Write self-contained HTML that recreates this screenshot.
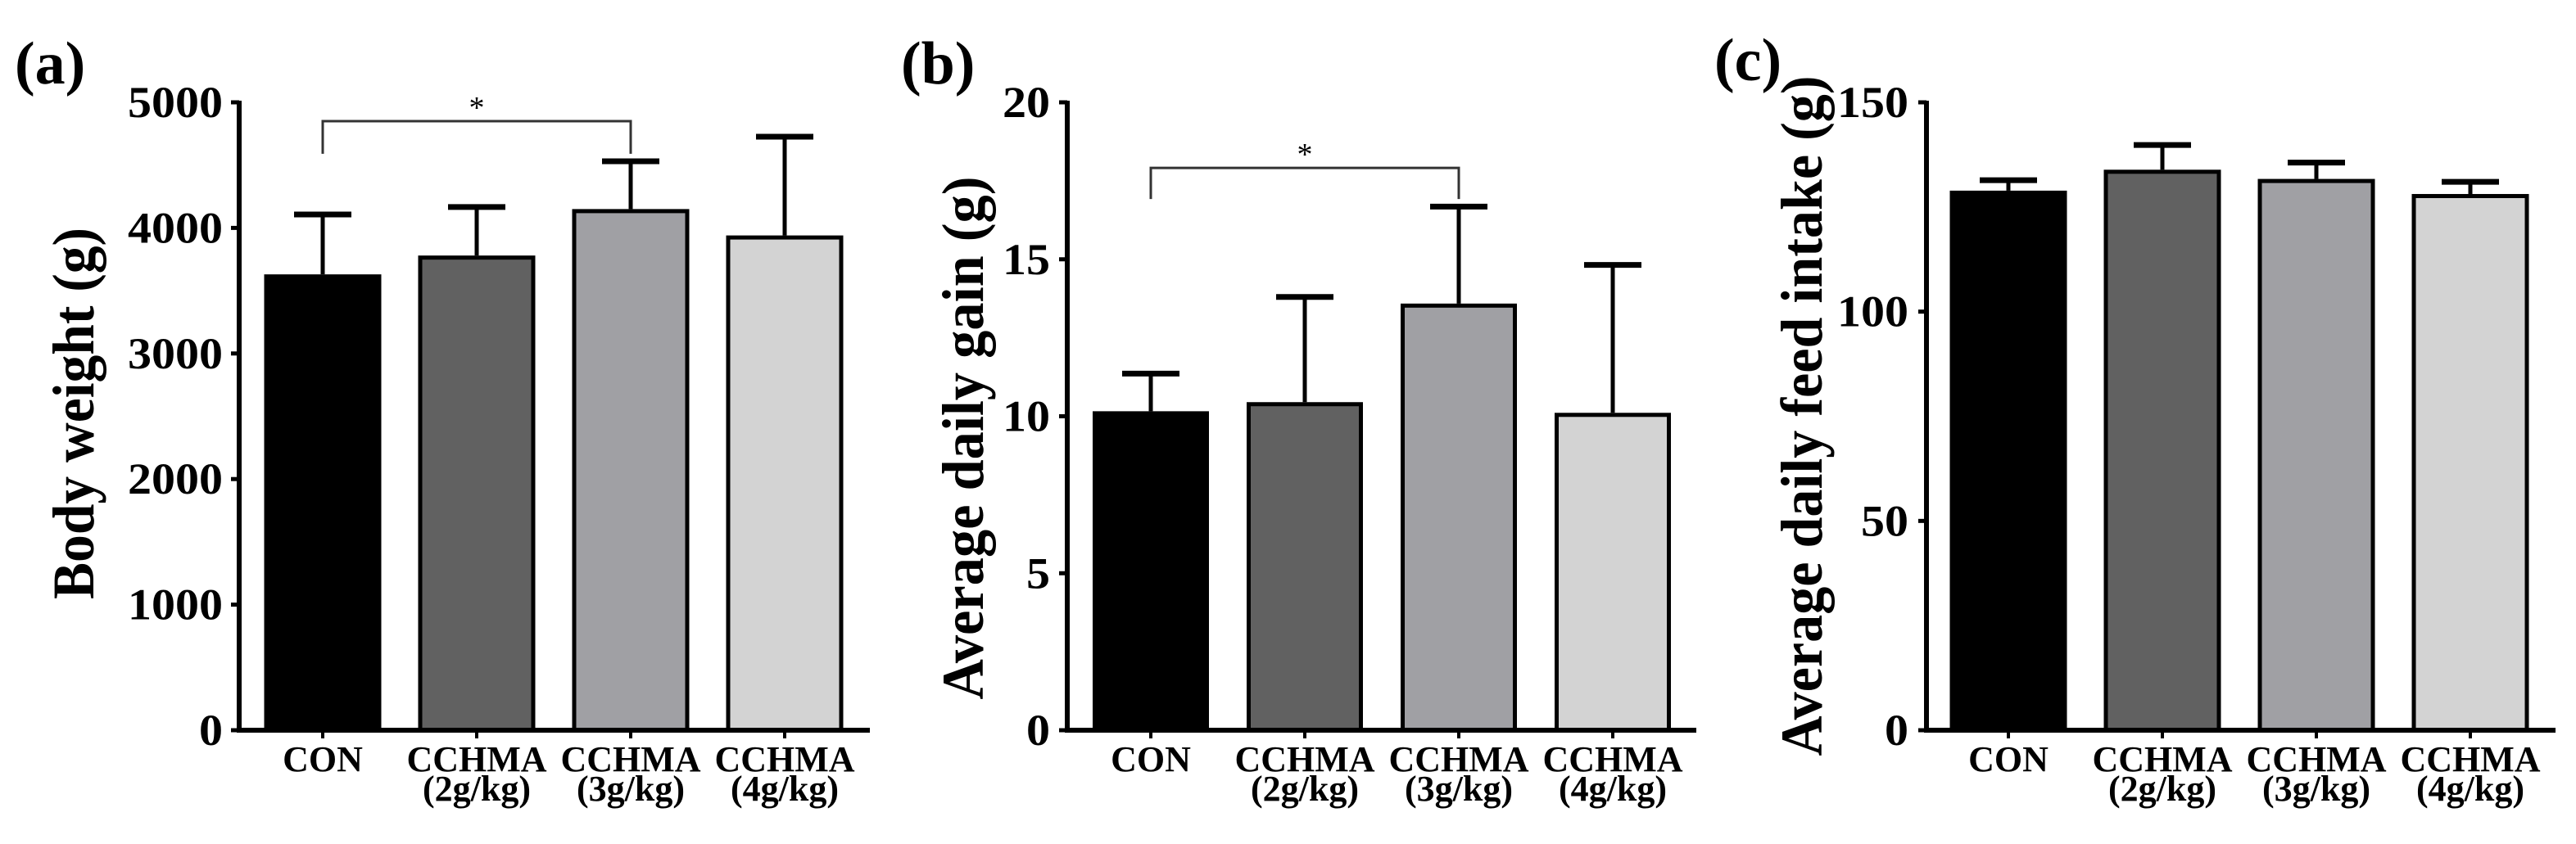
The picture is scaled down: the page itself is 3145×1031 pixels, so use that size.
<!DOCTYPE html>
<html><head><meta charset="utf-8"><style>
html,body{margin:0;padding:0;background:#fff;}
svg{display:block;font-family:"Liberation Serif",serif;font-weight:bold;}
</style></head><body>
<svg id="fig" width="3145" height="1031" viewBox="0 0 3145 1031" xmlns="http://www.w3.org/2000/svg"></svg>
<script>
const categories = ["CON", "CCHMA|(2g/kg)", "CCHMA|(3g/kg)", "CCHMA|(4g/kg)"];
const barColors = ["#000000", "#616161", "#a0a0a4", "#d3d3d3"];
const bwMeans = [3630, 3780, 4150, 3940];
const bwErr = [4107, 4166, 4531, 4726];
const bwTicks = [0, 1000, 2000, 3000, 4000, 5000];
const adgMeans = [10.16, 10.45, 13.59, 10.11];
const adgErr = [11.36, 13.80, 16.68, 14.82];
const adgTicks = [0, 5, 10, 15, 20];
const adfiMeans = [128.9, 133.9, 131.7, 128.1];
const adfiErr = [131.4, 139.8, 135.6, 131.0];
const adfiTicks = [0, 50, 100, 150];

const NS = "http://www.w3.org/2000/svg";
const svg = document.getElementById("fig");
function mk(tag, attrs, parent) {
  const e = document.createElementNS(NS, tag);
  for (const k in attrs) e.setAttribute(k, attrs[k]);
  (parent || svg).appendChild(e);
  return e;
}

function panel(p) {
  const g = mk("g", {});
  
  
  const yMax = p.ticks[p.ticks.length - 1];
  const y = v => p.y0 - (v / yMax) * (p.y0 - p.yTop);
  const cx = i => p.firstCenter + i * p.step;

  const lab = mk("text", {x: p.labX, y: p.labY, "font-size": 74}, g);
  lab.textContent = p.label;
  
  

  const tt = mk("text", {x: 0, y: 0, "font-size": p.titleSize, "text-anchor": "middle",
    textLength: p.titleLen, lengthAdjust: "spacingAndGlyphs",
    transform: `translate(${p.titleX},${p.titleY}) rotate(-90)`}, g);
  tt.textContent = p.title;
  
  

  p.means.forEach((m, i) => {
    const c = cx(i), half = p.barW / 2;
    const eb = mk("line", {x1: c, x2: c, y1: y(m), y2: y(p.err[i]), stroke: "#000", "stroke-width": 5}, g);
    
    
    const cap = mk("line", {x1: c - 35, x2: c + 35, y1: y(p.err[i]), y2: y(p.err[i]), stroke: "#000", "stroke-width": 7}, g);
    
    
    const r = mk("rect", {x: c - half + 2.5, y: y(m) + 2.5, width: p.barW - 5, height: p.y0 - y(m) - 2.5,
      fill: barColors[i], stroke: "#000", "stroke-width": 5}, g);
    
    
    const xt = mk("line", {x1: c, x2: c, y1: p.y0, y2: p.y0 + 10, stroke: "#000", "stroke-width": 4}, g);
    
    
    const parts = categories[i].split("|");
    parts.forEach((t, j) => {
      const tx = mk("text", {x: c, y: 942 + j * 36, "font-size": 44, "text-anchor": "middle"}, g);
      tx.textContent = t;
      
      
    });
  });

  const ya = mk("line", {x1: p.axisX, x2: p.axisX, y1: p.yTop - 2, y2: p.y0 + 3, stroke: "#000", "stroke-width": 6}, g);
  
  
  const xa = mk("line", {x1: p.axisX - 3, x2: p.xEnd, y1: p.y0, y2: p.y0, stroke: "#000", "stroke-width": 6}, g);
  
  

  p.ticks.forEach(t => {
    const tl = mk("line", {x1: p.axisX - 10, x2: p.axisX, y1: y(t), y2: y(t), stroke: "#000", "stroke-width": 5}, g);
    
    
    const s = String(t);
    const tx = mk("text", {x: p.tickRight, y: y(t) + 18, "font-size": 54, "text-anchor": "end",
      textLength: s.length * 29, lengthAdjust: "spacingAndGlyphs"}, g);
    tx.textContent = s;
    
    
  });

  if (p.bracket) {
    const b = p.bracket;
    const c1 = cx(b.from), c2 = cx(b.to);
    const br = mk("polyline", {points: `${c1},${y(b.drop)} ${c1},${y(b.level)} ${c2},${y(b.level)} ${c2},${y(b.drop)}`,
      fill: "none", stroke: "#333", "stroke-width": 3}, g);
    
    
    const st = mk("text", {x: (c1 + c2) / 2, y: y(b.level) - 4, "font-size": 38, "font-weight": "normal", "text-anchor": "middle"}, g);
    st.textContent = "*";
    
    
  }
}

panel({name: "panel-a-body-weight", label: "(a)", labX: 18, labY: 102, title: "Body weight (g)", titleSize: 72, titleLen: 454,
  titleX: 114, titleY: 505, means: bwMeans, err: bwErr, ticks: bwTicks, y0: 892, yTop: 125,
  axisX: 292, xEnd: 1062, firstCenter: 394, step: 188, barW: 143, tickRight: 272,
  bracket: {from: 0, to: 2, level: 4850, drop: 4590}});

panel({name: "panel-b-average-daily-gain", label: "(b)", labX: 1100, labY: 102, title: "Average daily gain (g)", titleSize: 72, titleLen: 639,
  titleX: 1200, titleY: 535, means: adgMeans, err: adgErr, ticks: adgTicks, y0: 892, yTop: 125,
  axisX: 1303, xEnd: 2071, firstCenter: 1405, step: 188, barW: 142, tickRight: 1282,
  bracket: {from: 0, to: 2, level: 17.91, drop: 16.92}});

panel({name: "panel-c-average-daily-feed-intake", label: "(c)", labX: 2093, labY: 98, title: "Average daily feed intake (g)", titleSize: 72, titleLen: 831,
  titleX: 2224, titleY: 508, means: adfiMeans, err: adfiErr, ticks: adfiTicks, y0: 892, yTop: 125,
  axisX: 2352, xEnd: 3120, firstCenter: 2452, step: 188, barW: 143, tickRight: 2330,
  bracket: null});
</script>
</body></html>
